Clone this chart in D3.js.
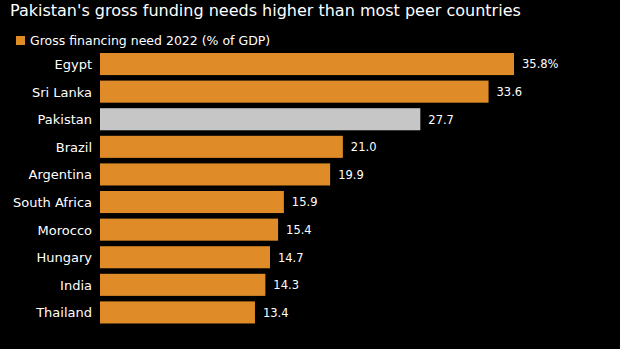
<!DOCTYPE html>
<html>
<head>
<meta charset="utf-8">
<script src="https://cdn.jsdelivr.net/npm/d3@7"></script>
<style>
  html, body { margin: 0; padding: 0; background: #000; }
  svg { display: block; }
  text { font-family: "DejaVu Sans", sans-serif; }
</style>
</head>
<body>
<div id="chart"></div>
<script>
const countries = ['Egypt', 'Sri Lanka', 'Pakistan', 'Brazil', 'Argentina', 'South Africa', 'Morocco', 'Hungary', 'India', 'Thailand'];
const values = [35.8, 33.6, 27.7, 21.0, 19.9, 15.9, 15.4, 14.7, 14.3, 13.4];
const valueLabels = ['35.8%', '33.6', '27.7', '21.0', '19.9', '15.9', '15.4', '14.7', '14.3', '13.4'];
const highlight = 'Pakistan';

const width = 620, height = 349;
const margin = { left: 100, top: 53 };
const step = 27.6;
const orange = '#df8b28', grey = '#c6c6c6';

const svg = d3.select('#chart').append('svg').attr('width', width).attr('height', height);
svg.append('rect').attr('width', width).attr('height', height).attr('fill', '#000');

svg.append('text')
  .attr('x', 10).attr('y', 16)
  .attr('fill', '#fff')
  .style('font-size', '16px')
  .text("Pakistan's gross funding needs higher than most peer countries");

// legend
svg.append('rect').attr('x', 16).attr('y', 36).attr('width', 9).attr('height', 9).attr('fill', orange);
svg.append('text')
  .attr('x', 30).attr('y', 44.5)
  .attr('fill', '#fff')
  .style('font-size', '12.5px')
  .text('Gross financing need 2022 (% of GDP)');

const x = d3.scaleLinear().domain([0, 35.8]).range([margin.left, 514]);
const y = d3.scaleBand()
  .domain(countries)
  .range([margin.top, margin.top + step * (countries.length - 0.2)])
  .paddingInner(0.2)
  .paddingOuter(0);

const data = countries.map((c, i) => ({ country: c, value: values[i], label: valueLabels[i] }));

svg.selectAll('rect.bar')
  .data(data)
  .enter()
  .append('rect')
  .attr('class', 'bar')
  .attr('x', x(0))
  .attr('y', d => y(d.country))
  .attr('width', d => x(d.value) - x(0))
  .attr('height', y.bandwidth())
  .attr('fill', d => (d.country === highlight ? grey : orange));

svg.selectAll('text.val')
  .data(data)
  .enter()
  .append('text')
  .attr('class', 'val')
  .attr('x', d => x(d.value) + 8)
  .attr('y', d => y(d.country) + y.bandwidth() / 2)
  .attr('dy', '0.38em')
  .attr('fill', '#fff')
  .style('font-size', '11.5px')
  .text(d => d.label);

svg.selectAll('text.cat')
  .data(data)
  .enter()
  .append('text')
  .attr('class', 'cat')
  .attr('x', 92)
  .attr('y', d => y(d.country) + y.bandwidth() / 2)
  .attr('dy', '0.38em')
  .attr('text-anchor', 'end')
  .attr('fill', '#fff')
  .style('font-size', '13px')
  .text(d => d.country);
</script>
</body>
</html>
